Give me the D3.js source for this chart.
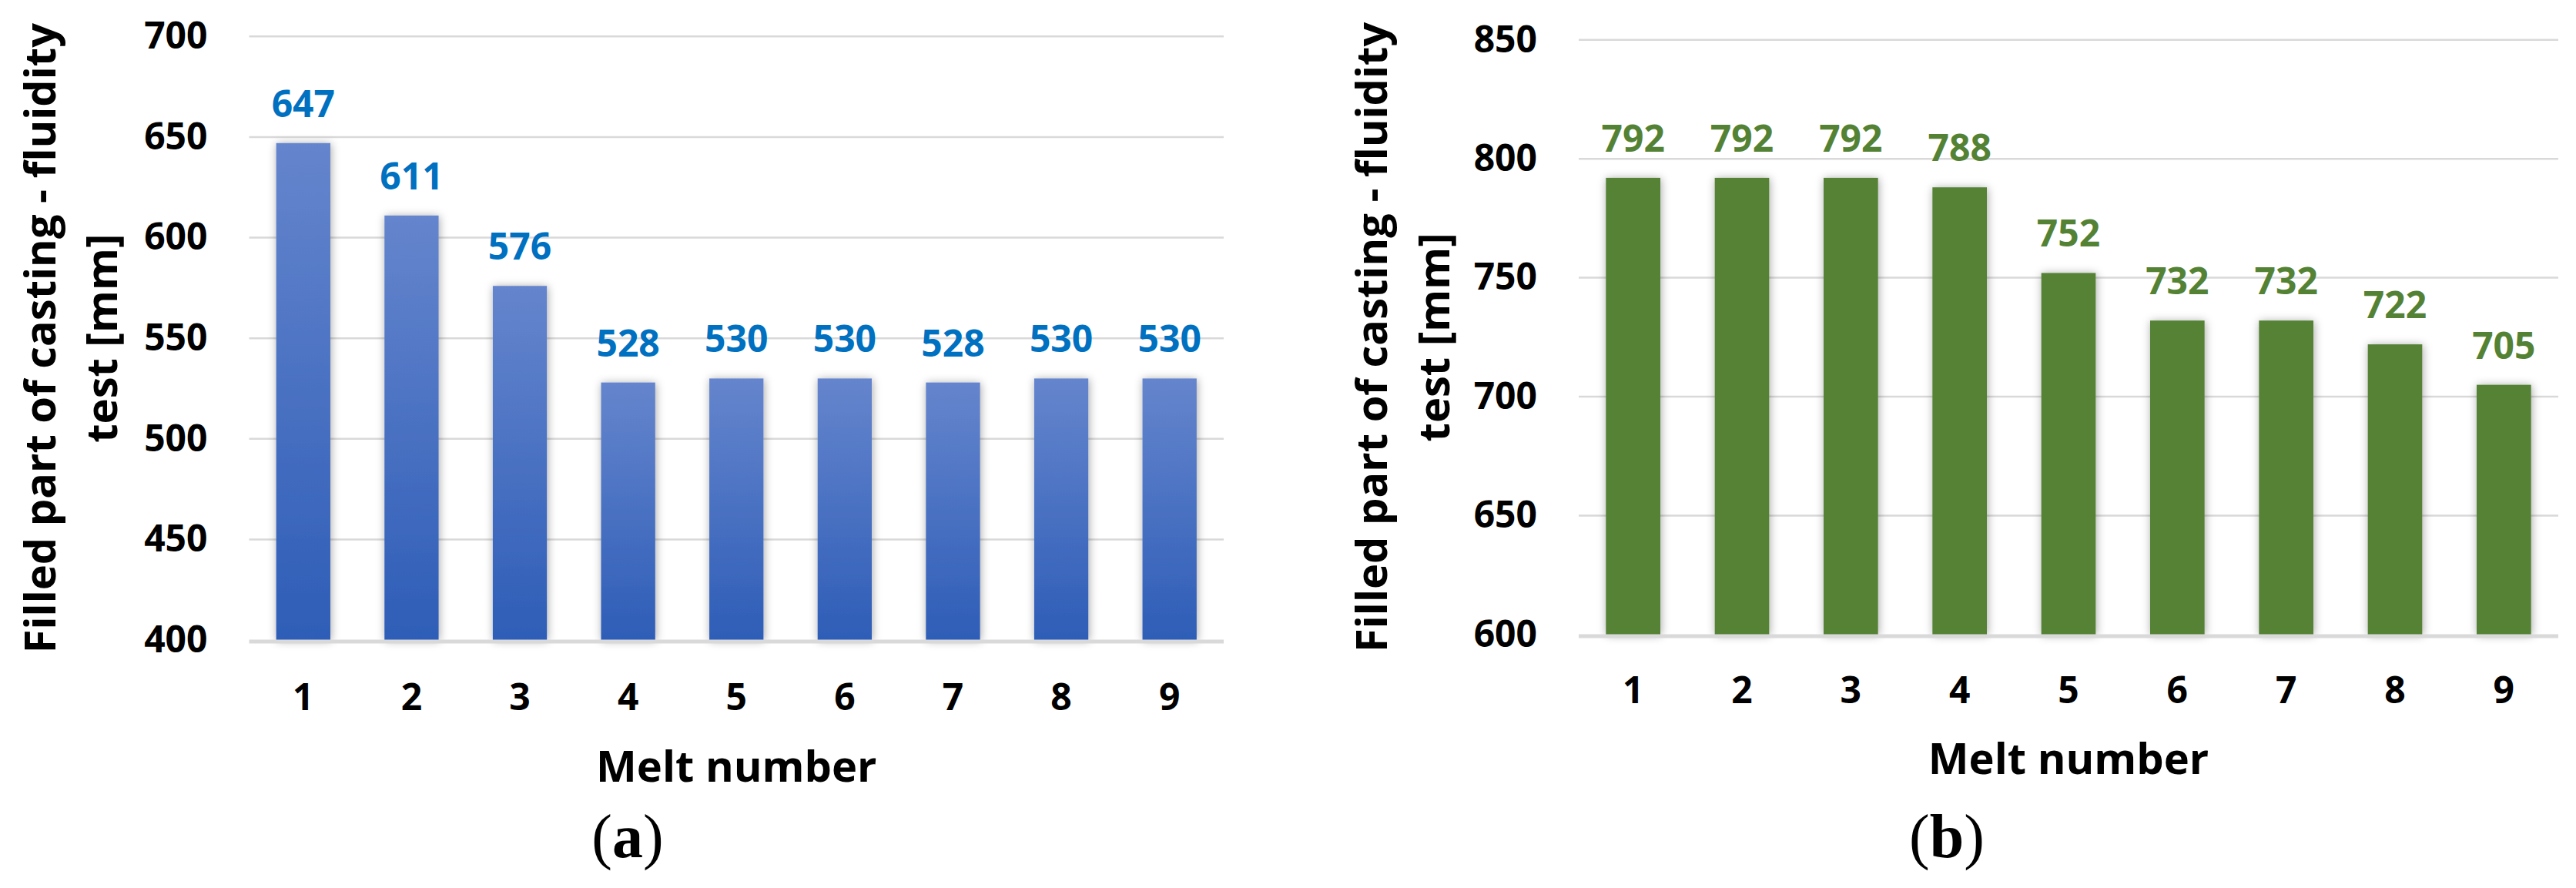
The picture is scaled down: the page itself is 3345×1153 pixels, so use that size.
<!DOCTYPE html>
<html>
<head>
<meta charset="utf-8">
<script src="https://cdn.jsdelivr.net/npm/d3@7"></script>
<style>
  html, body { margin: 0; padding: 0; background: #fff; }
  svg { display: block; }
  text { font-family: "Open Sans", "DejaVu Sans", sans-serif; font-weight: 700; }
</style>
</head>
<body>
<svg id="chart" width="3345" height="1153"></svg>
<script>
// ---- data ----
const melts = ["1", "2", "3", "4", "5", "6", "7", "8", "9"];
const valuesA = [647, 611, 576, 528, 530, 530, 528, 530, 530];
const valuesB = [792, 792, 792, 788, 752, 732, 732, 722, 705];
const ticksA = [400, 450, 500, 550, 600, 650, 700];
const ticksB = [600, 650, 700, 750, 800, 850];
const yTitle1 = "Filled part of casting - fluidity";
const yTitle2 = "test [mm]";
const xTitle = "Melt number";

const svg = d3.select("#chart");
const defs = svg.append("defs");

const grad = defs.append("linearGradient").attr("id", "blueGrad")
  .attr("x1", 0).attr("y1", 0).attr("x2", 0).attr("y2", 1);
grad.append("stop").attr("offset", "0%").attr("stop-color", "#6585CD");
grad.append("stop").attr("offset", "100%").attr("stop-color", "#2E5DB7");

const filt = defs.append("filter").attr("id", "shadow")
  .attr("x", "-40%").attr("y", "-10%").attr("width", "180%").attr("height", "120%");
filt.append("feDropShadow").attr("dx", 1).attr("dy", 1).attr("stdDeviation", 6)
  .attr("flood-color", "#000").attr("flood-opacity", 0.35);

function panel(opt) {
  const g = svg.append("g");
  const x = d3.scaleBand().domain(melts).range([opt.left, opt.right])
    .paddingInner(0.5).paddingOuter(0.25);
  const y = d3.scaleLinear().domain(opt.domain).range([opt.bottom, opt.top]);

  // gridlines
  g.append("g").selectAll("line").data(opt.ticks.filter(t => t !== opt.domain[0])).join("line")
    .attr("x1", opt.left).attr("x2", opt.right)
    .attr("y1", d => y(d)).attr("y2", d => y(d))
    .attr("stroke", "#D9D9D9").attr("stroke-width", 2.5);

  // bars
  g.append("g").selectAll("rect").data(opt.values).join("rect")
    .attr("x", (d, i) => x(melts[i]))
    .attr("width", x.bandwidth())
    .attr("y", d => y(d))
    .attr("height", d => y(opt.domain[0]) - y(d))
    .attr("fill", opt.fill)
    .attr("filter", "url(#shadow)");

  // baseline axis
  g.append("line")
    .attr("x1", opt.left).attr("x2", opt.right)
    .attr("y1", y(opt.domain[0]) + 2).attr("y2", y(opt.domain[0]) + 2)
    .attr("stroke", "#D9D9D9").attr("stroke-width", 5);

  // data labels
  g.append("g").selectAll("text").data(opt.values).join("text")
    .attr("x", (d, i) => x(melts[i]) + x.bandwidth() / 2)
    .attr("y", d => y(d) - 34)
    .attr("text-anchor", "middle")
    .attr("font-size", 48)
    .attr("fill", opt.labelColor)
    .text(d => d);

  // y axis
  const yAxis = d3.axisLeft(y).tickValues(opt.ticks).tickSize(0).tickPadding(54);
  const ya = g.append("g").attr("transform", `translate(${opt.left},0)`).call(yAxis);
  ya.select(".domain").remove();
  ya.selectAll("text").attr("font-size", 48).attr("fill", "#000")
    .attr("font-family", "'Open Sans', sans-serif").attr("font-weight", 700);

  // x axis
  const xAxis = d3.axisBottom(x).tickSize(0).tickPadding(0);
  const xa = g.append("g").attr("transform", `translate(0,${opt.xLabelY})`).call(xAxis);
  xa.select(".domain").remove();
  xa.selectAll("text").attr("font-size", 48).attr("fill", "#000").attr("dy", 0)
    .attr("font-family", "'Open Sans', sans-serif").attr("font-weight", 700);

  // titles
  const cy = (opt.top + opt.bottom) / 2;
  g.append("text").attr("transform", `translate(${opt.t1x},${cy}) rotate(-90)`)
    .attr("text-anchor", "middle").attr("font-size", 56).attr("fill", "#000").text(yTitle1);
  g.append("text").attr("transform", `translate(${opt.t2x},${cy}) rotate(-90)`)
    .attr("text-anchor", "middle").attr("font-size", 56).attr("fill", "#000").text(yTitle2);
  g.append("text").attr("x", (opt.left + opt.right) / 2).attr("y", opt.xTitleY)
    .attr("text-anchor", "middle").attr("font-size", 56).attr("fill", "#000").text(xTitle);

  // panel letter
  g.append("text").attr("x", opt.letterX).attr("y", 1113)
    .attr("text-anchor", "middle")
    .style("font-family", "'Liberation Serif', 'Times New Roman', serif")
    .style("font-weight", 400).attr("font-size", 80).attr("fill", "#000")
    .text("(").append("tspan").style("font-weight", 700).text(opt.letter)
    .select(function () { return this.parentNode; })
    .append("tspan").style("font-weight", 400).text(")");
}

panel({
  values: valuesA, ticks: ticksA, domain: [400, 700],
  left: 323.5, right: 1589, top: 47.3, bottom: 831,
  fill: "url(#blueGrad)", labelColor: "#0070C0",
  xLabelY: 922, xTitleY: 1015, t1x: 72, t2x: 152,
  letter: "a", letterX: 815
});

panel({
  values: valuesB, ticks: ticksB, domain: [600, 850],
  left: 2050, right: 3322, top: 51.7, bottom: 824,
  fill: "#548235", labelColor: "#548235",
  xLabelY: 913, xTitleY: 1005, t1x: 1801, t2x: 1882,
  letter: "b", letterX: 2528
});
</script>
</body>
</html>
